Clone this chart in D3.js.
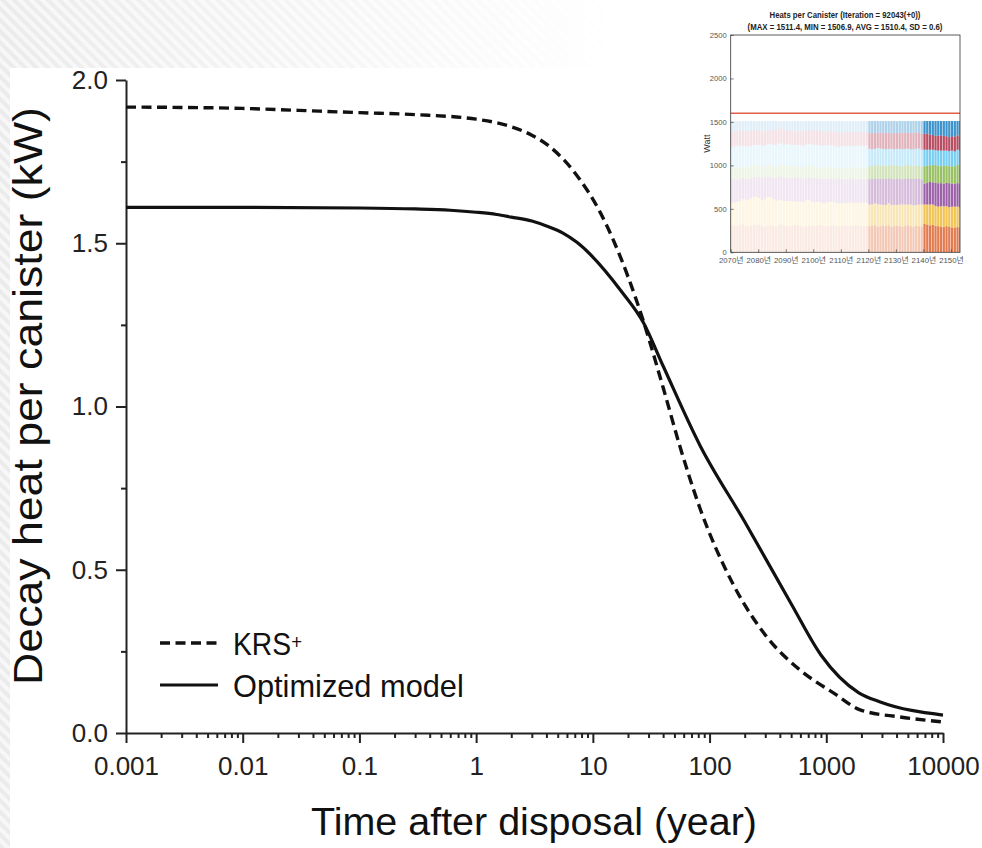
<!DOCTYPE html>
<html>
<head>
<meta charset="utf-8">
<script src="https://cdn.jsdelivr.net/npm/d3@7"></script>
<style>
  html, body { margin: 0; padding: 0; background: #fff; }
  svg { display: block; }
</style>
</head>
<body>
<div id="chart"></div>
<script>
// main chart: decay heat per canister (kW) vs time after disposal (year)
var timeKRS = [0.001, 0.003, 0.01, 0.03, 0.1, 0.3, 1, 2, 3, 4.3, 7, 11.5, 20, 27, 40, 56, 83, 160, 310, 600, 1150, 1950, 4300, 10000];
var heatKRS = [1.917, 1.916, 1.913, 1.907, 1.900, 1.894, 1.880, 1.857, 1.831, 1.795, 1.716, 1.596, 1.398, 1.263, 1.058, 0.875, 0.687, 0.454, 0.294, 0.192, 0.123, 0.071, 0.049, 0.034];
var timeOpt = [0.001, 0.01, 0.1, 0.3, 0.6, 1, 1.5, 2, 3, 4, 5.5, 7.3, 17.8, 27, 40, 83, 200, 500, 900, 1900, 2900, 10000];
var heatOpt = [1.61, 1.61, 1.608, 1.605, 1.601, 1.595, 1.588, 1.58, 1.568, 1.553, 1.532, 1.503, 1.35, 1.258, 1.124, 0.88, 0.647, 0.396, 0.239, 0.123, 0.095, 0.055];
var decadeTicks = [0.001, 0.01, 0.1, 1, 10, 100, 1000, 10000];
var heatTicks = [0, 0.5, 1.0, 1.5, 2.0];
var heatMinorTicks = [0.25, 0.75, 1.25, 1.75];
var legendNames = ['KRS', 'Optimized model'];

// inset: heats per canister, stacked by layer, one bar per year (2070..2153)
var insetTitle = ['Heats per Canister (Iteration = 92043(+0))', '(MAX = 1511.4, MIN = 1506.9, AVG = 1510.4, SD = 0.6)'];
var insetYearTicks = [2070, 2080, 2090, 2100, 2110, 2120, 2130, 2140, 2150];
var insetWattTicks = [0, 500, 1000, 1500, 2000, 2500];
var heatLimit = 1600;
var firstYear = 2070;
var layerOrange = [
    310,305,300,315,320,305,295,300,310,320, 315,300,290,305,310,300,295,310,320,305,
    300,295,305,315,310,300,290,300,310,305, 300,310,315,305,295,300,305,310,300,295,
    305,310,300,295,300,310,305,300,295,305,
    300,305,310,295,300,305,300,310,295,300, 305,300,295,305,310,300,295,305,300,295,
    330,320,310,315,305,300,295,290,300,295, 285,280,290,285];
var layerYellow = [
    260,270,280,275,290,300,310,320,330,320, 310,300,320,330,325,310,300,290,280,285,
    290,295,280,270,275,285,290,300,290,280, 275,270,265,260,270,280,275,270,265,270,
    260,255,265,275,270,260,265,270,275,270,
    250,245,255,260,250,240,245,255,250,245, 240,250,255,245,240,250,245,240,250,255,
    220,230,240,235,230,225,235,240,230,225, 240,245,235,230];
var layerPurple = [
    270,265,260,250,245,240,235,230,220,225, 240,255,250,235,230,245,260,270,275,270,
    265,260,270,280,275,265,260,255,260,270, 275,270,265,275,280,270,265,260,275,285,
    280,275,270,275,280,270,275,270,265,270,
    290,295,280,290,295,300,300,285,300,295, 300,295,290,295,300,295,305,300,295,290,
    240,250,260,255,265,270,265,260,270,275, 265,260,270,275];
var layerGreen = [
    130,135,140,130,125,135,140,145,150,140, 130,125,130,135,140,130,125,130,135,140,
    145,140,135,130,125,130,135,140,145,140, 135,130,125,130,135,140,135,130,125,120,
    125,130,135,130,125,130,135,130,125,130,
    150,145,155,160,150,155,145,150,160,155, 150,145,150,155,160,150,145,155,150,145,
    200,195,190,200,205,200,195,205,200,195, 200,205,210,200];
var layerCyan = [
    240,245,250,250,245,240,235,230,225,230, 240,245,240,235,240,250,255,250,245,240,
    245,250,245,240,250,255,250,245,240,245, 250,255,260,255,250,245,250,255,250,245,
    250,255,250,245,250,255,250,255,260,255,
    200,195,190,195,200,190,195,190,185,190, 195,200,195,190,185,190,195,190,200,195,
    190,185,180,175,170,175,180,175,170,175, 180,170,175,180];
var layerRed = [
    170,175,165,170,175,180,175,170,165,170, 165,160,165,170,165,160,165,170,165,160,
    155,160,165,160,155,160,165,160,155,160, 165,170,165,160,155,160,165,170,165,160,
    155,160,165,160,155,160,155,160,165,160,
    180,185,180,175,185,180,190,185,180,185, 180,185,190,185,180,185,190,185,180,185,
    180,185,175,170,165,170,175,170,165,160, 165,170,165,160];
// total heat of each canister bar; the top (blue) layer fills up to it
var canisterTotal = [
    1510.6,1510.2,1510.9,1510.4,1509.8,1510.5,1511.0,1510.3,1510.1,1510.7,
    1510.4,1510.8,1510.0,1510.5,1511.4,1510.2,1510.6,1510.3,1509.9,1510.5,
    1510.7,1510.1,1510.4,1510.9,1510.2,1510.6,1510.3,1510.0,1510.8,1510.4,
    1510.5,1510.2,1510.7,1510.3,1509.6,1510.4,1510.9,1510.1,1510.6,1510.3,
    1510.4,1510.8,1510.2,1510.5,1510.0,1510.6,1510.3,1510.7,1510.4,1510.1,
    1510.5,1510.3,1510.8,1510.2,1510.6,1510.4,1510.0,1510.7,1510.3,1510.5,
    1506.9,1510.4,1510.6,1510.2,1510.8,1510.3,1510.5,1510.1,1510.6,1510.4,
    1510.3,1510.7,1510.2,1510.5,1510.4,1510.8,1510.1,1510.6,1510.3,1510.5,
    1510.2,1510.7,1510.4,1510.6];

var FONT = "'Liberation Sans', Arial, Helvetica, sans-serif";
var width = 982;
var height = 848;

var svg = d3.select('#chart')
    .append('svg')
    .attr('width', width)
    .attr('height', height);

// squeeze or stretch a text horizontally so it spans the given width
function fitText(text, target, tx, ty, rotated) {
    var k = target / text.node().getComputedTextLength();
    text.attr('transform', `translate(${tx},${ty})` + (rotated ? ' rotate(-90)' : '') + ` scale(${k},1)`);
}

// striped slide background, fading out to the right
var defs = svg.append('defs');
var pattern = defs.append('pattern')
    .attr('id', 'stripes')
    .attr('width', 8)
    .attr('height', 8)
    .attr('patternUnits', 'userSpaceOnUse')
    .attr('patternTransform', 'rotate(-45)');
pattern.append('rect').attr('width', 8).attr('height', 8).attr('fill', '#f7f7f7');
pattern.append('rect').attr('width', 4).attr('height', 8).attr('fill', '#ebebeb');
var grad = defs.append('linearGradient')
    .attr('id', 'fade')
    .attr('x1', 0).attr('x2', 1).attr('y1', 0).attr('y2', 0);
grad.append('stop').attr('offset', 0).attr('stop-color', '#fff');
grad.append('stop').attr('offset', 1).attr('stop-color', '#000');
defs.append('mask').attr('id', 'fadeMask')
    .append('rect')
    .attr('width', 620)
    .attr('height', height)
    .attr('fill', 'url(#fade)');

svg.append('rect').attr('width', width).attr('height', height).attr('fill', '#fff');
svg.append('rect')
    .attr('width', width)
    .attr('height', height)
    .attr('fill', 'url(#stripes)')
    .attr('mask', 'url(#fadeMask)');
svg.append('rect')
    .attr('x', 10).attr('y', 68)
    .attr('width', width - 10).attr('height', height - 68)
    .attr('fill', '#fff');

// ---- main chart ----
var x = d3.scaleLog()
    .domain([0.001, 10000])
    .range([126, 943]);
var y = d3.scaleLinear()
    .domain([0, 2])
    .range([733, 80]);

var minorX = [];
decadeTicks.slice(0, -1).forEach(d => {
    for (var k = 2; k < 10; k++) minorX.push(k * d);
});

function styleAxis(g) {
    g.attr('font-family', FONT).attr('font-size', 26);
    g.selectAll('.domain, .tick line').attr('stroke', '#222').attr('stroke-width', 2);
    g.selectAll('.tick text').attr('fill', '#222');
}

svg.append('g')
    .attr('transform', 'translate(0,733)')
    .call(d3.axisBottom(x).tickValues(minorX).tickSize(5).tickFormat(''))
    .call(g => g.select('.domain').remove())
    .call(styleAxis);

svg.append('g')
    .attr('transform', 'translate(0,733)')
    .call(d3.axisBottom(x)
        .tickValues(decadeTicks)
        .tickSize(10)
        .tickSizeOuter(0)
        .tickPadding(14)
        .tickFormat(d => String(d)))
    .call(styleAxis);

svg.append('g')
    .attr('transform', 'translate(126,0)')
    .call(d3.axisLeft(y).tickValues(heatMinorTicks).tickSize(5).tickFormat(''))
    .call(g => g.select('.domain').remove())
    .call(styleAxis);

svg.append('g')
    .attr('transform', 'translate(126,0)')
    .call(d3.axisLeft(y)
        .tickValues(heatTicks)
        .tickSize(10)
        .tickSizeOuter(0)
        .tickPadding(8)
        .tickFormat(d3.format('.1f')))
    .call(styleAxis);

var xTitle = svg.append('text')
    .attr('text-anchor', 'middle')
    .attr('font-family', FONT)
    .attr('font-size', 38)
    .attr('fill', '#111')
    .text('Time after disposal (year)');
fitText(xTitle, 446, 534, 835, false);

var yTitle = svg.append('text')
    .attr('text-anchor', 'middle')
    .attr('font-family', FONT)
    .attr('font-size', 41)
    .attr('fill', '#111')
    .text('Decay heat per canister (kW)');
fitText(yTitle, 578, 42, 396, true);

var line = d3.line()
    .x(d => x(d[0]))
    .y(d => y(d[1]))
    .curve(d3.curveMonotoneX);

svg.append('path')
    .datum(d3.zip(timeKRS, heatKRS))
    .attr('fill', 'none')
    .attr('stroke', '#111')
    .attr('stroke-width', 3.4)
    .attr('stroke-dasharray', '10,5.5')
    .attr('d', line);

svg.append('path')
    .datum(d3.zip(timeOpt, heatOpt))
    .attr('fill', 'none')
    .attr('stroke', '#111')
    .attr('stroke-width', 3.2)
    .attr('stroke-linejoin', 'round')
    .attr('d', line);

// legend
var legend = svg.append('g').attr('font-family', FONT).attr('fill', '#111');
legend.append('line')
    .attr('x1', 160).attr('x2', 218).attr('y1', 643).attr('y2', 643)
    .attr('stroke', '#111').attr('stroke-width', 3.4).attr('stroke-dasharray', '10,5.5');
legend.append('line')
    .attr('x1', 160).attr('x2', 218).attr('y1', 685).attr('y2', 685)
    .attr('stroke', '#111').attr('stroke-width', 3.2);
var krs = legend.append('text')
    .attr('font-size', 32);
krs.append('tspan').text(legendNames[0]);
krs.append('tspan')
    .attr('font-size', 21)
    .attr('dy', -6)
    .text('+');
fitText(krs, 69, 233, 655, false);
var opt = legend.append('text')
    .attr('font-size', 32)
    .text(legendNames[1]);
fitText(opt, 231, 233, 697, false);

// ---- inset ----
var ix = d3.scaleLinear()
    .domain([2070, 2153.3])
    .range([730.7, 960]);
var iy = d3.scaleLinear()
    .domain([0, 2500])
    .range([252.3, 35]);

var layerKeys = ['orange', 'yellow', 'purple', 'green', 'cyan', 'red', 'blue'];
var layerColor = {
    orange: '#D95319', yellow: '#EDB120', purple: '#7E2F8E', green: '#77AC30',
    cyan: '#4DBEEE', red: '#A2142F', blue: '#0072BD'
};
var rows = canisterTotal.map((t, i) => {
    var r = {
        year: firstYear + i,
        orange: layerOrange[i], yellow: layerYellow[i], purple: layerPurple[i],
        green: layerGreen[i], cyan: layerCyan[i], red: layerRed[i]
    };
    r.blue = t - r.orange - r.yellow - r.purple - r.green - r.cyan - r.red;
    return r;
});
var stacked = d3.stack().keys(layerKeys)(rows);

function barOpacity(year) {
    if (year < 2120) return 0.12;
    if (year < 2140) return 0.32;
    return 0.76;
}

var inset = svg.append('g');
inset.append('defs').append('clipPath').attr('id', 'insetClip')
    .append('rect')
    .attr('x', ix(2070)).attr('y', iy(2500))
    .attr('width', ix(2153.3) - ix(2070)).attr('height', iy(0) - iy(2500));

var barsG = inset.append('g').attr('clip-path', 'url(#insetClip)');
stacked.forEach(layer => {
    barsG.append('g')
        .attr('fill', layerColor[layer.key])
        .selectAll('rect')
        .data(layer)
        .join('rect')
        .attr('x', d => ix(d.data.year))
        .attr('width', d => ix(d.data.year + 1) - ix(d.data.year) - 0.5)
        .attr('y', d => iy(d[1]))
        .attr('height', d => iy(d[0]) - iy(d[1]))
        .attr('fill-opacity', d => barOpacity(d.data.year));
});

inset.append('line')
    .attr('x1', ix(2070)).attr('x2', ix(2153.3))
    .attr('y1', iy(heatLimit)).attr('y2', iy(heatLimit))
    .attr('stroke', '#e0604c')
    .attr('stroke-width', 1.4);

inset.append('g')
    .attr('transform', `translate(${ix(2070)},0)`)
    .call(d3.axisLeft(iy)
        .tickValues(insetWattTicks)
        .tickSize(-3)
        .tickSizeOuter(0)
        .tickPadding(4)
        .tickFormat(d => String(d)))
    .call(g => g.select('.domain').remove())
    .call(g => g.attr('font-family', FONT).attr('font-size', 7.6))
    .call(g => g.selectAll('.tick line').attr('stroke', '#444').attr('stroke-width', 0.7))
    .call(g => g.selectAll('.tick text').attr('fill', '#555'));

inset.append('g')
    .attr('transform', `translate(0,${iy(0)})`)
    .call(d3.axisBottom(ix)
        .tickValues(insetYearTicks)
        .tickSize(-3)
        .tickSizeOuter(0)
        .tickPadding(5.4)
        .tickFormat(d => d + '년'))
    .call(g => g.select('.domain').remove())
    .call(g => g.attr('font-family', "'Liberation Sans', 'Noto Sans CJK KR', sans-serif").attr('font-size', 7.8))
    .call(g => g.selectAll('.tick line').attr('stroke', '#444').attr('stroke-width', 0.7))
    .call(g => g.selectAll('.tick text').attr('fill', '#555'));

inset.append('rect')
    .attr('x', ix(2070)).attr('y', iy(2500))
    .attr('width', ix(2153.3) - ix(2070)).attr('height', iy(0) - iy(2500))
    .attr('fill', 'none')
    .attr('stroke', '#333')
    .attr('stroke-width', 0.8);

inset.append('text')
    .attr('transform', `translate(710,${(iy(0) + iy(2500)) / 2}) rotate(-90)`)
    .attr('text-anchor', 'middle')
    .attr('font-family', FONT)
    .attr('font-size', 9)
    .attr('fill', '#333')
    .text('Watt');

var t1 = inset.append('text')
    .attr('text-anchor', 'middle')
    .attr('font-family', FONT)
    .attr('font-weight', 'bold')
    .attr('font-size', 9.6)
    .attr('fill', '#222')
    .text(insetTitle[0]);
fitText(t1, 151, 845, 17.5, false);

var t2 = inset.append('text')
    .attr('text-anchor', 'middle')
    .attr('font-family', FONT)
    .attr('font-weight', 'bold')
    .attr('font-size', 9.6)
    .attr('fill', '#222')
    .text(insetTitle[1]);
fitText(t2, 195, 845, 29.5, false);
</script>
</body>
</html>
